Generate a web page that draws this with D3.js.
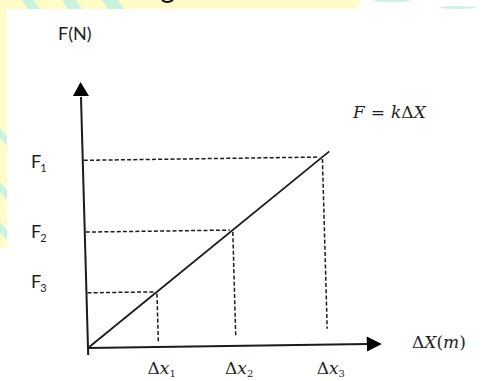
<!DOCTYPE html>
<html>
<head>
<meta charset="utf-8">
<script src="https://cdn.jsdelivr.net/npm/d3@7"></script>
<style>
  html, body { margin: 0; padding: 0; background: #ffffff; }
  svg { display: block; }
</style>
</head>
<body>
<svg id="chart" width="484" height="381"></svg>
<script>
// Hooke's law: spring force against extension (k = 1 N/m in plot units)
const extensions = [1, 2.1, 3.4];          // Δx1, Δx2, Δx3
const forces = [1, 2.1, 3.4];              // F3, F2, F1  (F = kΔx)
const extensionLabels = ["1", "2", "3"];   // subscripts of Δx
const forceLabels = ["3", "2", "1"];       // subscripts of F
const lineEnd = [0, 3.5];                  // extent of the F = kΔX line

const svg = d3.select("#chart");

// ---- page decoration around the white card ----
const deco = svg.append("g");
deco.append("rect").attr("x", 0).attr("y", 0).attr("width", 484).attr("height", 381).attr("fill", "#ffffff");
deco.append("path").attr("d", "M0,0 H362 L356,9 H7 V248 H0 Z").attr("fill", "#fffcca");
const mint = "#c9f3df";
[[22, 34], [62, 76], [102, 118]].forEach(([a, b]) => {
  deco.append("path").attr("d", `M${a},0 H${b} L${b + 6},9 H${a + 6} Z`).attr("fill", mint);
});
[[128, 146], [182, 200], [222, 240]].forEach(([a, b]) => {
  deco.append("path").attr("d", `M0,${a} L7,${a + 8} V${b} L0,${b - 8} Z`).attr("fill", mint);
});
deco.append("ellipse").attr("cx", 392).attr("cy", 0.5).attr("rx", 18).attr("ry", 1.6).attr("fill", mint);
deco.append("ellipse").attr("cx", 458).attr("cy", 7.5).attr("rx", 18).attr("ry", 1.4).attr("fill", mint);
deco.append("path").attr("d", "M162,0 Q167,4 173,0").attr("fill", "none").attr("stroke", "#111").attr("stroke-width", 2);

// ---- plot frame (slightly sheared, like a hand-drawn sketch) ----
const xScale = d3.scaleLinear().domain([0, 4.17]).range([0, 294]);
const yScale = d3.scaleLinear().domain([0, 4.82]).range([0, -266]);

const plot = svg.append("g")
  .attr("transform", "translate(88,348) skewX(1.6) skewY(-0.8)");

const ink = "#1b1b1b";

// axes
plot.append("line")
  .attr("x1", xScale(0)).attr("y1", 7)
  .attr("x2", xScale(0)).attr("y2", yScale(4.55))
  .attr("stroke", ink).attr("stroke-width", 2);
plot.append("line")
  .attr("x1", -1).attr("y1", yScale(0))
  .attr("x2", xScale(3.97)).attr("y2", yScale(0))
  .attr("stroke", ink).attr("stroke-width", 2);

// arrow heads
const yTop = yScale(4.82), xEnd = xScale(4.17);
plot.append("path")
  .attr("d", `M${xScale(0)},${yTop} L${xScale(0) - 8},${yTop + 14} L${xScale(0) + 8},${yTop + 14} Z`)
  .attr("fill", "#000");
plot.append("path")
  .attr("d", `M${xEnd},0 L${xEnd - 15},-7.5 L${xEnd - 15},7.5 Z`)
  .attr("fill", "#000");

// dashed guides
const dash = "4,2.2";
plot.selectAll(".hguide").data(extensions).enter().append("line")
  .attr("class", "hguide")
  .attr("x1", xScale(0) + 1).attr("x2", d => xScale(d) - 3)
  .attr("y1", (d, i) => yScale(forces[i])).attr("y2", (d, i) => yScale(forces[i]))
  .attr("stroke", ink).attr("stroke-width", 1.5).attr("stroke-dasharray", dash);
plot.selectAll(".vguide").data(extensions).enter().append("line")
  .attr("class", "vguide")
  .attr("x1", d => xScale(d)).attr("x2", d => xScale(d))
  .attr("y1", (d, i) => yScale(forces[i]) + 2).attr("y2", (d, i) => yScale(0) - 4 - i * 6)
  .attr("stroke", ink).attr("stroke-width", 1.5).attr("stroke-dasharray", dash);

// F = kΔX line
plot.append("line")
  .attr("x1", xScale(lineEnd[0])).attr("y1", yScale(lineEnd[0]))
  .attr("x2", xScale(lineEnd[1])).attr("y2", yScale(lineEnd[1]))
  .attr("stroke", ink).attr("stroke-width", 1.8);

// ---- labels ----
const sans = "Lato, 'Open Sans', 'Liberation Sans', sans-serif";
const serif = "'DejaVu Serif', 'Liberation Serif', serif";
const textInk = "#1e1e1e";

svg.append("text").attr("x", 58).attr("y", 40)
  .attr("font-family", sans).attr("font-size", 18).attr("fill", textInk)
  .text("F(N)");

// force labels on the y side (F1 top, F3 bottom); the sketch places them loosely
const forceLabelNudge = [-5, 6, 8];
forces.forEach((f, i) => {
  const t = svg.append("text").attr("x", 31).attr("y", 348 + yScale(f) + forceLabelNudge[i])
    .attr("font-family", sans).attr("font-size", 18).attr("fill", textInk);
  t.append("tspan").text("F");
  t.append("tspan").attr("dx", -1).attr("dy", 4).attr("font-size", 11).text(forceLabels[i]);
});

// extension labels under the x axis
extensions.forEach((d, i) => {
  const t = svg.append("text").attr("x", 88 + xScale(d) - 11).attr("y", 374)
    .attr("font-family", serif).attr("font-size", 17).attr("fill", textInk);
  t.append("tspan").text("Δ");
  t.append("tspan").attr("font-style", "italic").text("x");
  t.append("tspan").attr("dy", 3).attr("font-size", 10).text(extensionLabels[i]);
});

// axis title for the x axis
const xt = svg.append("text").attr("x", 412).attr("y", 348)
  .attr("font-family", serif).attr("font-size", 17).attr("fill", textInk);
xt.append("tspan").text("Δ");
xt.append("tspan").attr("font-style", "italic").text("X");
xt.append("tspan").text("(");
xt.append("tspan").attr("font-style", "italic").text("m");
xt.append("tspan").text(")");

// the law itself
const law = svg.append("text").attr("x", 353).attr("y", 118)
  .attr("font-family", serif).attr("font-size", 17).attr("fill", textInk);
law.append("tspan").attr("font-style", "italic").text("F");
law.append("tspan").attr("dx", 6).text("=");
law.append("tspan").attr("dx", 6).attr("font-style", "italic").text("k");
law.append("tspan").text("Δ");
law.append("tspan").attr("font-style", "italic").text("X");
</script>
</body>
</html>
